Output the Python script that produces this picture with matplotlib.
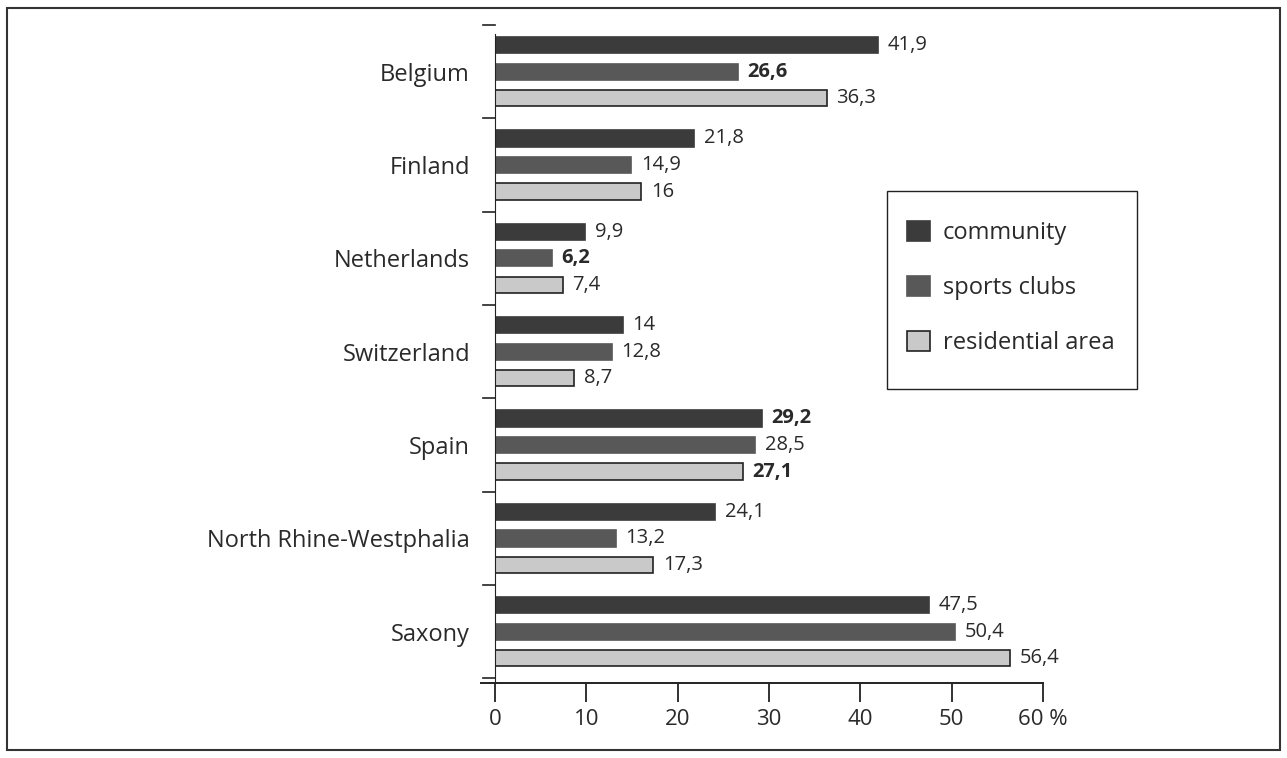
import matplotlib.pyplot as plt
from matplotlib.patches import Rectangle
import numpy as np

plt.rcParams['font.family'] = ['Open Sans', 'DejaVu Sans']

# Data
countries = ['Belgium', 'Finland', 'Netherlands', 'Switzerland', 'Spain',
             'North Rhine-Westphalia', 'Saxony']
community = [41.9, 21.8, 9.9, 14, 29.2, 24.1, 47.5]
sports_clubs = [26.6, 14.9, 6.2, 12.8, 28.5, 13.2, 50.4]
residential = [36.3, 16, 7.4, 8.7, 27.1, 17.3, 56.4]
xticks = [0, 10, 20, 30, 40, 50, 60]
xticklabels = ['0', '10', '20', '30', '40', '50', '60 %']
bold_labels = {('sports clubs', 'Belgium'), ('sports clubs', 'Netherlands'),
               ('community', 'Spain'), ('residential area', 'Spain')}

series = [('community', community, '#3b3b3b', '#3b3b3b'),
          ('sports clubs', sports_clubs, '#585858', '#585858'),
          ('residential area', residential, '#c9c9c9', '#222222')]

fig = plt.figure(figsize=(12.87, 7.58), dpi=100)
ax = fig.add_axes([495/1287, 1 - 683/758, 548/1287, (683 - 25)/758])

y = np.arange(len(countries))
offsets = [-0.285, 0, 0.285]
h = 0.175
text_col = '#2a2a2a'

for (name, vals, fc, ec), off in zip(series, offsets):
    bars = ax.barh(y + off, vals, height=h, color=fc, edgecolor=ec,
                   linewidth=1.2, label=name)
    for b, v, c in zip(bars, vals, countries):
        lbl = ('%g' % v).replace('.', ',')
        ax.annotate(lbl, (v, b.get_y() + h / 2), xytext=(7, 0),
                    textcoords='offset points', va='center', ha='left',
                    fontsize=14.5, color=text_col,
                    fontweight='bold' if (name, c) in bold_labels else 'normal')

ax.set_xlim(0, 60)
ax.set_ylim(6.55, -0.5)
ax.set_xticks(xticks)
ax.set_xticklabels(xticklabels)

ax.set_yticks(y)
ax.set_yticklabels(countries)
ax.tick_params(axis='y', length=0, pad=18, labelsize=17, labelcolor=text_col)
ax.tick_params(axis='x', length=14, width=1.3, pad=5, labelsize=16,
               labelcolor=text_col, color='#222222')
# group separators on the left spine
for b in np.arange(-0.5, 6.6, 1.0):
    ax.plot([-1.3, 0], [b, b], color='#222222', lw=1.2, clip_on=False)

for s in ['top', 'right']:
    ax.spines[s].set_visible(False)
ax.spines['left'].set_color('#222222')
ax.spines['left'].set_bounds(6.55, -0.4)
ax.spines['bottom'].set_color('#222222')
ax.spines['bottom'].set_linewidth(1.4)
ax.spines['bottom'].set_bounds(-1.5, 60)

# legend entries without frame, box drawn separately
leg = ax.legend(loc='upper left', bbox_to_anchor=(907/1287, 1 - 221/758),
                bbox_transform=fig.transFigure, frameon=False,
                fontsize=17, handlelength=0.97, handleheight=0.93,
                labelspacing=1.3, borderpad=0, handletextpad=0.55,
                borderaxespad=0)
for t in leg.get_texts():
    t.set_color(text_col)
fig.patches.append(Rectangle((887/1287, 1 - 389/758), 250/1287, 198/758,
                             transform=fig.transFigure, fill=False,
                             edgecolor='#222222', linewidth=1.0))

# outer frame
fig.patches.append(Rectangle((7/1287, 8/758), (1280 - 7)/1287, (750 - 8)/758,
                             transform=fig.transFigure, fill=False,
                             edgecolor='#333333', linewidth=1.5))

fig.savefig('out.png', dpi=100)
